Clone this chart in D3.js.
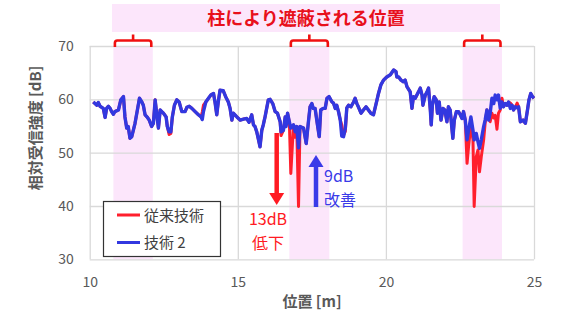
<!DOCTYPE html>
<html>
<head>
<meta charset="utf-8">
<script src="https://cdnjs.cloudflare.com/ajax/libs/d3/7.8.5/d3.min.js"></script>
<style>
    body { margin: 0; background: #fff; }
    text { font-family: "Noto Sans CJK JP", "Noto Sans", sans-serif; }
</style>
</head>
<body>
<div id="main"></div>
<script>

// position along track [m]
const positions = [10.12,10.18,10.24,10.29,10.35,10.46,10.52,10.57,10.63,10.69,
    10.74,10.80,10.85,10.97,11.05,11.14,11.19,11.25,11.30,11.36,
    11.42,11.53,11.61,11.68,11.76,11.81,11.87,11.95,12.01,12.09,
    12.15,12.21,12.26,12.32,12.38,12.43,12.49,12.58,12.62,12.68,
    12.74,12.79,12.86,12.94,13.02,13.11,13.22,13.28,13.36,13.45,
    13.56,13.67,13.76,13.80,13.84,13.92,14.01,14.09,14.18,14.23,
    14.29,14.34,14.40,14.51,14.59,14.68,14.74,14.80,14.85,14.97,
    15.08,15.19,15.30,15.38,15.47,15.53,15.58,15.64,15.70,15.75,
    15.81,15.86,15.92,16.03,16.09,16.18,16.26,16.34,16.43,16.46,
    16.54,16.60,16.63,16.68,16.74,16.79,16.88,16.94,16.99,17.05,
    17.10,17.22,17.31,17.39,17.44,17.50,17.55,17.61,17.69,17.75,
    17.80,17.88,17.95,18.01,18.08,18.18,18.23,18.29,18.34,18.40,
    18.46,18.51,18.57,18.63,18.68,18.74,18.82,18.91,18.96,19.02,
    19.07,19.16,19.24,19.33,19.41,19.49,19.58,19.70,19.75,19.83,
    19.92,20.03,20.15,20.26,20.34,20.37,20.43,20.51,20.59,20.65,
    20.71,20.82,20.88,20.93,20.99,21.10,21.16,21.22,21.25,21.33,
    21.39,21.44,21.50,21.53,21.57,21.63,21.70,21.74,21.80,21.86,
    21.93,21.99,22.06,22.11,22.17,22.26,22.31,22.38,22.45,22.51,
    22.57,22.62,22.68,22.74,22.79,22.87,22.94,22.98,23.05,23.11,
    23.16,23.22,23.30,23.35,23.41,23.47,23.52,23.58,23.64,23.69,
    23.75,23.80,23.86,23.92,23.97,24.03,24.09,24.14,24.20,24.26,
    24.31,24.37,24.43,24.48,24.54,24.63,24.71,24.78,24.83,24.89,
    24.95,25.00];

// 技術2 [dB]
const tech2 = [59.5,59.2,58.9,59.4,58.7,58.3,56.6,58.3,58.7,58.3,
    57.7,57.2,57.7,58.0,59.9,60.5,56.7,54.6,54.9,52.7,
    53.0,55.5,58.0,60.2,59.5,58.9,57.1,56.6,56.1,54.9,
    55.5,59.9,57.4,54.6,58.0,57.7,57.4,56.7,54.9,53.9,
    53.9,56.7,58.9,59.9,59.5,57.7,57.7,58.5,58.7,58.3,
    57.7,57.1,56.7,56.2,57.7,59.5,60.2,60.8,61.1,59.5,
    57.1,59.5,61.7,61.6,60.5,59.5,58.3,56.1,57.4,56.7,
    56.1,56.3,56.4,55.7,57.1,55.2,54.9,53.9,52.4,51.1,
    54.2,55.2,56.7,59.9,60.0,59.2,57.7,57.4,55.8,53.9,
    54.2,56.7,54.9,57.4,55.8,54.6,55.2,53.9,54.9,50.9,
    54.9,54.6,51.7,56.1,58.6,59.2,58.3,58.3,55.2,53.0,
    58.0,58.3,58.3,60.2,60.5,59.5,59.3,58.3,58.9,57.7,
    56.1,53.1,53.0,54.6,58.4,58.9,58.6,59.5,60.2,59.2,
    58.6,57.4,58.0,58.6,58.0,57.4,57.1,59.9,61.1,62.7,
    63.6,64.2,64.6,65.5,65.2,64.2,64.2,63.6,63.3,63.6,
    62.4,61.4,58.3,60.5,60.2,61.4,62.1,60.8,58.9,60.8,
    61.4,62.1,58.0,55.2,58.9,60.5,59.9,57.4,59.5,56.1,
    58.3,58.0,55.8,58.6,58.0,52.7,56.1,57.7,57.7,57.1,
    56.4,57.7,56.1,52.4,54.2,56.7,54.2,52.4,53.6,52.0,
    50.8,52.4,54.9,56.1,58.0,56.1,57.4,60.2,59.2,60.8,
    59.9,60.8,58.3,59.5,58.6,59.2,58.9,59.5,58.3,58.9,
    58.0,58.6,58.4,58.6,55.8,56.1,55.5,58.0,59.9,61.1,
    60.5,60.2];

// 従来技術 [dB]
const conventional = [59.5,59.2,58.9,59.4,58.7,58.3,56.6,58.3,58.7,58.3,
    57.7,57.2,57.7,58.0,59.9,60.5,56.7,54.6,54.9,52.7,
    53.0,55.5,58.0,60.2,59.5,58.9,57.1,56.6,56.1,54.9,
    55.5,59.9,57.4,54.6,58.0,57.7,57.4,56.7,54.9,53.4,
    53.6,56.7,58.9,59.9,59.5,57.7,57.7,58.5,58.7,58.3,
    57.7,57.1,56.7,57.6,58.9,59.5,60.2,60.8,61.1,59.5,
    57.1,59.5,61.7,61.6,60.5,59.5,58.3,56.1,57.4,56.7,
    56.1,56.3,56.4,55.7,57.1,55.2,54.9,53.9,52.4,51.1,
    54.2,55.2,56.7,59.9,60.0,59.2,57.7,57.4,55.8,53.2,
    54.2,56.7,55.2,57.4,55.8,46.1,55.2,52.9,54.9,39.9,
    54.9,54.6,51.7,56.1,58.6,59.2,58.3,58.3,55.2,53.0,
    58.0,58.3,58.3,60.2,60.5,59.5,59.3,58.3,58.9,57.7,
    56.1,55.2,53.3,54.0,58.4,58.9,58.6,59.5,60.2,59.2,
    58.6,57.4,58.0,58.6,58.0,57.4,57.1,59.9,61.1,62.7,
    63.6,64.2,64.6,65.5,65.2,64.2,64.2,63.6,63.3,63.6,
    62.4,61.4,58.3,60.5,60.2,61.4,62.1,60.8,58.9,60.8,
    61.4,62.1,58.0,55.2,58.9,60.5,59.9,57.4,59.5,56.1,
    58.3,58.0,55.8,58.6,58.0,52.7,56.1,57.7,57.7,57.1,
    56.4,57.7,56.1,48.0,51.1,55.2,52.4,39.9,49.2,50.5,
    46.4,49.2,52.4,55.5,58.0,56.8,55.8,57.4,56.5,57.0,
    54.4,57.4,58.0,60.2,58.6,59.2,58.9,59.5,59.3,58.9,
    58.0,58.6,59.3,58.6,55.8,56.1,55.5,58.0,59.9,61.1,
    60.5,60.2];

// pillar shadowed ranges [m]
const shadowStart = [10.8, 16.74, 22.59];
const shadowEnd = [12.13, 18.09, 23.92];

const xTicks = [10, 15, 20, 25];
const yTicks = [30, 40, 50, 60, 70];

const seriesNames = ["従来技術", "技術 2"];
const seriesColors = ["#ff1f2d", "#3238e0"];

function drawPlot(){

    const w = 565;
    const h = 332;

    const svg = d3.select("#main").append("svg").attr("width", w).attr("height", h);

    const xScale = d3.scaleLinear().domain([10, 25]).range([89.7, 534]);
    const yScale = d3.scaleLinear().domain([30, 70]).range([259.3, 46]);

    const pink = "#fce6fb";
    const grey = "#595959";

    // shaded pillar bands
    svg.selectAll("rect.band")
        .data(shadowStart)
        .enter()
        .append("rect")
        .attr("class", "band")
        .attr("x", (d) => xScale(d))
        .attr("y", yScale(70))
        .attr("width", (d, i) => xScale(shadowEnd[i]) - xScale(d))
        .attr("height", yScale(30) - yScale(70))
        .style("fill", pink);

    // grid
    const yAxis = d3.axisLeft(yScale)
        .tickValues(yTicks)
        .tickSize(-(xScale(25) - xScale(10)))
        .tickPadding(16)
        .tickFormat(d3.format("d"));
    const xAxis = d3.axisBottom(xScale)
        .tickValues(xTicks)
        .tickSize(-(yScale(30) - yScale(70)))
        .tickPadding(18)
        .tickFormat(d3.format("d"));

    const gy = svg.append("g")
        .attr("transform", "translate(" + xScale(10) + ",0)")
        .attr("id", "y-axis")
        .call(yAxis);
    const gx = svg.append("g")
        .attr("transform", "translate(0," + yScale(30) + ")")
        .attr("id", "x-axis")
        .call(xAxis);

    [gx, gy].forEach((g) => {
        g.select(".domain").remove();
        g.selectAll(".tick line").attr("stroke", "#d9d9d9").attr("stroke-width", 1.3);
        g.selectAll(".tick text")
            .style("font-size", "14px")
            .style("fill", grey);
    });

    // lines
    const line = (vals) => d3.line()
        .x((d, i) => xScale(positions[i]))
        .y((d) => yScale(d))(vals);

    svg.append("path")
        .attr("d", line(conventional))
        .attr("fill", "none")
        .attr("stroke", seriesColors[0])
        .attr("stroke-width", 3)
        .attr("stroke-linejoin", "round");

    svg.append("path")
        .attr("d", line(tech2))
        .attr("fill", "none")
        .attr("stroke", seriesColors[1])
        .attr("stroke-width", 3.4)
        .attr("stroke-linejoin", "round");

    // title box
    svg.append("rect")
        .attr("x", 112)
        .attr("y", 4)
        .attr("width", 388)
        .attr("height", 28)
        .style("fill", pink);
    svg.append("text")
        .attr("x", 306)
        .attr("y", 25)
        .style("text-anchor", "middle")
        .style("font-size", "18px")
        .style("font-weight", "bold")
        .style("fill", "#e8101c")
        .text("柱により遮蔽される位置");

    // brackets over bands
    svg.selectAll("path.bracket")
        .data(shadowStart)
        .enter()
        .append("path")
        .attr("class", "bracket")
        .attr("d", (d, i) => {
            const x0 = xScale(d) + 1.5, x1 = xScale(shadowEnd[i]) - 1.5;
            const xm = (x0 + x1) / 2;
            return "M" + x0 + ",47 L" + x0 + ",43 Q" + x0 + ",40.5 " + (x0 + 2.5) + ",40.5 L" +
                (x1 - 2.5) + ",40.5 Q" + x1 + ",40.5 " + x1 + ",43 L" + x1 + ",47" +
                " M" + xm + ",40.5 L" + xm + ",34.5";
        })
        .attr("fill", "none")
        .attr("stroke", "#f01010")
        .attr("stroke-width", 2.6);

    // axis titles
    svg.append("text")
        .attr("transform", "translate(41,128) rotate(-90)")
        .style("text-anchor", "middle")
        .style("font-size", "15px")
        .style("font-weight", "bold")
        .style("fill", grey)
        .text("相対受信強度 [dB]");

    svg.append("text")
        .attr("x", 312)
        .attr("y", 307)
        .style("text-anchor", "middle")
        .style("font-size", "15px")
        .style("font-weight", "bold")
        .style("fill", grey)
        .text("位置 [m]");

    // legend
    const legend = svg.append("g").attr("id", "legend");
    legend.append("rect")
        .attr("x", 103.5)
        .attr("y", 201.5)
        .attr("width", 117)
        .attr("height", 55)
        .style("fill", "#fff")
        .style("stroke", "#333")
        .style("stroke-width", 1.2);
    legend.selectAll("line")
        .data(seriesNames)
        .enter()
        .append("line")
        .attr("x1", 117)
        .attr("x2", 140)
        .attr("y1", (d, i) => 215 + i * 27.5)
        .attr("y2", (d, i) => 215 + i * 27.5)
        .attr("stroke", (d, i) => seriesColors[i])
        .attr("stroke-width", 3);
    legend.selectAll("text")
        .data(seriesNames)
        .enter()
        .append("text")
        .attr("x", 144)
        .attr("y", (d, i) => 220.5 + i * 27.5)
        .style("font-size", "15px")
        .style("fill", "#404040")
        .text((d) => d);

    // arrows and notes
    const arrow = (x, yFrom, yTo, color) => {
        const dir = yTo > yFrom ? 1 : -1;
        const base = yTo - dir * 12;
        svg.append("line")
            .attr("x1", x).attr("x2", x)
            .attr("y1", yFrom).attr("y2", base)
            .attr("stroke", color)
            .attr("stroke-width", 4.5);
        svg.append("path")
            .attr("d", "M" + (x - 7.5) + "," + base + " L" + (x + 7.5) + "," + base + " L" + x + "," + yTo + " Z")
            .attr("fill", color);
    };
    arrow(276.7, 133, 205, "#ff1a22");
    arrow(316, 207, 155, "#3a3ae8");

    const note = (x, y, anchor, color, t) => {
        svg.append("text")
            .attr("x", x)
            .attr("y", y)
            .style("text-anchor", anchor)
            .style("font-size", "16px")
            .style("fill", color)
            .text(t);
    };
    note(268, 225, "middle", "#ff1a22", "13dB");
    note(268, 249, "middle", "#ff1a22", "低下");
    note(324, 182, "start", "#3a3ae8", "9dB");
    note(324, 206, "start", "#3a3ae8", "改善");
}

drawPlot();
</script>
</body>
</html>
